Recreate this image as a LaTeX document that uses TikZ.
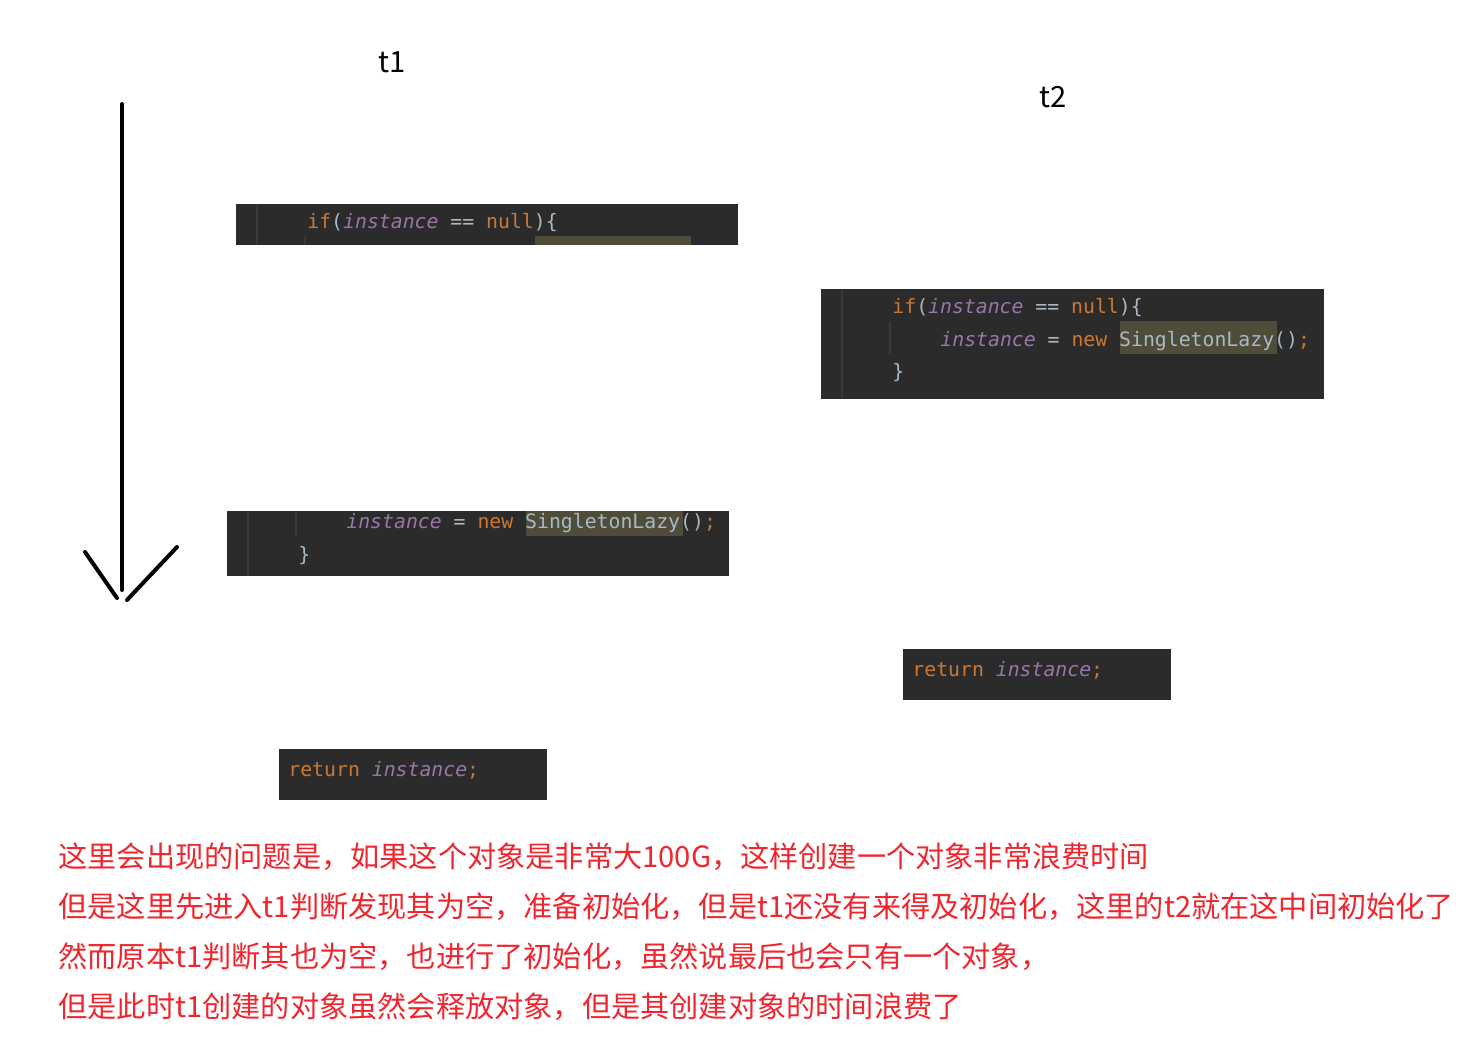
\documentclass[tikz,border=0pt]{standalone}
\usepackage{fontspec}
\setmonofont{DejaVu Sans Mono}
\newfontfamily\cjk{Noto Sans CJK SC}
\usepackage{xcolor}
\definecolor{codebg}{HTML}{2B2B2B}
\definecolor{kwcol}{HTML}{CC7832}
\definecolor{fldcol}{HTML}{9876AA}
\definecolor{txtcol}{HTML}{A9B7C6}
\definecolor{hlcol}{HTML}{4F4D3A}
\definecolor{guidecol}{HTML}{3A3A3A}
\definecolor{notecol}{HTML}{F0262E}
\newcommand{\kw}[1]{\textcolor{kwcol}{#1}}
\newcommand{\fld}[1]{\textcolor{fldcol}{\itshape #1}}
\tikzset{
    code/.style={anchor=base west, inner sep=0pt, text=txtcol,
        font=\ttfamily\fontsize{9.9}{12}\selectfont},
    codebox/.style={fill=codebg},
    hl/.style={fill=hlcol},
    guide/.style={draw=guidecol, line width=1pt},
    label/.style={anchor=base west, inner sep=0pt, font=\cjk\fontsize{14.6}{18}\selectfont},
    note/.style={label, text=notecol}
}

\begin{document}
\begin{tikzpicture}[x=0.5pt, y=-0.5pt]
    \fill[white] (0,0) rectangle (1477,1049);
    \useasboundingbox (0,0) rectangle (1477,1049);

    % thread labels
    \node[label] (t1) at (378,72) {t1};
    \node[label] (t2) at (1039,107) {t2};

    % time arrow
    \coordinate (top) at (122,104);
    \coordinate (tip) at (122,590);
    \draw[line width=2pt, line cap=round] (top) -- (tip);
    \draw[line width=2pt, line cap=round] (85,552) -- (117,598);
    \draw[line width=2pt, line cap=round] (177,547) -- (127,600);

    % t1: check
    \fill[codebox] (236,204) rectangle (738,245);
    \draw[guide] (257,204) -- (257,245);
    \draw[guide] (305,236) -- (305,245);
    \fill[hl] (535,236) rectangle (691,245);
    \node[code] (ifA) at (307,228) {\kw{if}(\fld{instance} == \kw{null}){\{}};

    % t2: check and create
    \fill[codebox] (821,289) rectangle (1324,399);
    \draw[guide] (842,289) -- (842,399);
    \draw[guide] (890,322) -- (890,354);
    \fill[hl] (1120,321) rectangle (1277,354);
    \node[code] (ifB) at (892,313) {\kw{if}(\fld{instance} == \kw{null}){\{}};
    \node[code] (newB) at (940,346) {\fld{instance} = \kw{new} SingletonLazy()\kw{;}};
    \node[code] (endB) at (892,378) {\}};

    % t1: create
    \fill[codebox] (227,511) rectangle (729,576);
    \draw[guide] (248,511) -- (248,576);
    \draw[guide] (296,511) -- (296,536);
    \fill[hl] (526,511) rectangle (683,536);
    \node[code] (newA) at (346,528) {\fld{instance} = \kw{new} SingletonLazy()\kw{;}};
    \node[code] (endA) at (298,561) {\}};

    % returns
    \fill[codebox] (903,649) rectangle (1171,700);
    \node[code] (retB) at (912,676) {\kw{return} \fld{instance}\kw{;}};
    \fill[codebox] (279,749) rectangle (547,800);
    \node[code] (retA) at (288,776) {\kw{return} \fld{instance}\kw{;}};

    % notes
    \node[note] (n1) at (58,867) {这里会出现的问题是，如果这个对象是非常大100G，这样创建一个对象非常浪费时间};
    \node[note] (n2) at (58,917) {但是这里先进入t1判断发现其为空，准备初始化，但是t1还没有来得及初始化，这里的t2就在这中间初始化了};
    \node[note] (n3) at (58,967) {然而原本t1判断其也为空，也进行了初始化，虽然说最后也会只有一个对象，};
    \node[note] (n4) at (58,1017) {但是此时t1创建的对象虽然会释放对象，但是其创建对象的时间浪费了};
\end{tikzpicture}
\end{document}
